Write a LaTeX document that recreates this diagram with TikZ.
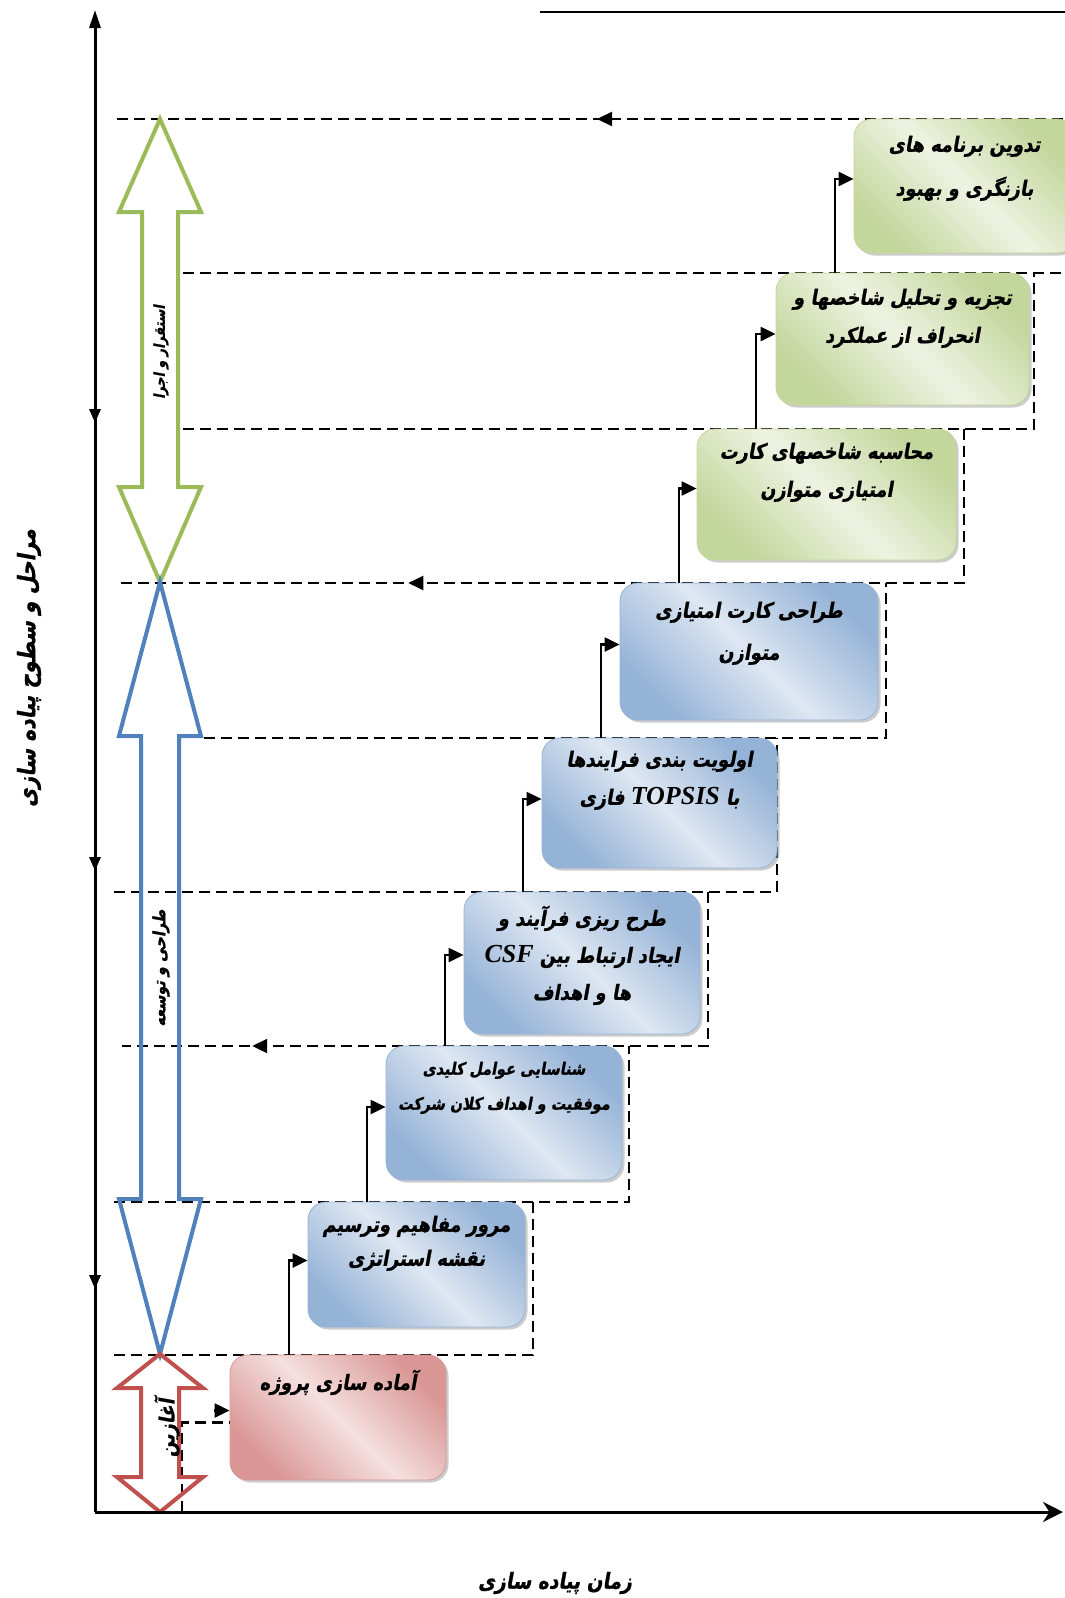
\documentclass[tikz,border=0pt]{standalone}
\usepackage{fontspec}
\usepackage{xcolor}
\usepackage{tikz}
\usetikzlibrary{positioning,calc,shadows,arrows.meta,decorations.markings}
\TeXXeTstate=1
\newfontfamily\fa[Script=Arabic,FakeSlant=0.18,FakeStretch=0.85,FakeBold=1.2]{DejaVu Sans}
\newfontfamily\lat{Liberation Serif}
\definecolor{gline}{HTML}{9BBB59}
\definecolor{gdark}{HTML}{C3D69B}
\definecolor{glight}{HTML}{EEF3E2}
\definecolor{bline}{HTML}{4F81BD}
\definecolor{bdark}{HTML}{95B3D7}
\definecolor{blight}{HTML}{DEE7F2}
\definecolor{rline}{HTML}{C0504D}
\definecolor{rdark}{HTML}{D99694}
\definecolor{rlight}{HTML}{F4E0DF}

\begin{document}
\begin{tikzpicture}[x=1pt,y=-1pt]
			\useasboundingbox (0,0) rectangle (1065,1598);
			\tikzstyle{frame}=[dash pattern=on 11pt off 6pt, line width=2.2pt]
			\tikzstyle{stage}=[rounded corners=18pt, line width=0.8pt, drop shadow={shadow xshift=2.5pt,shadow yshift=-2.5pt,fill=black!40}]
			\tikzstyle{greenstage}=[stage, draw=gdark, top color=gdark, bottom color=gdark, middle color=glight, shading angle=-45]
			\tikzstyle{bluestage}=[stage, draw=bdark, top color=bdark, bottom color=bdark, middle color=blight, shading angle=-45]
			\tikzstyle{redstage}=[stage, draw=rdark, top color=rdark, bottom color=rdark, middle color=rlight, shading angle=-45]
			\tikzstyle{boxtext}=[font=\fa\bfseries\fontsize{21}{38}\selectfont, align=center, inner sep=0pt]
			\tikzstyle{phase}=[line width=4pt, line join=miter]
			\tikzstyle{axis}=[line width=3pt]
			\tikzset{edge/.style = {line width=2.2pt, -{Triangle[length=15pt,width=14pt]}}}
			\tikzset{backmark/.style = {postaction={decorate}, decoration={markings, mark=at position #1 with {\arrow{Triangle[length=15pt,width=14pt]}}}}}
			
			% dashed steps
			\draw[frame, backmark=0.5] (1080,119) -- (114,119);
			\draw[frame] (183,273) -- (1080,273);
			\draw[frame] (183,429) -| (1034,273);
			\draw[frame, backmark=0.709] (964,429) |- (117,583);
			\draw[frame] (204,738) -| (886,583);
			\draw[frame] (114,892) -| (777,738);
			\draw[frame, backmark=0.824] (708,892) |- (122,1046);
			\draw[frame] (114,1202) -| (629,1046);
			\draw[frame] (114,1355) -| (533,1202);
			
			% stages
			\node[redstage, minimum width=216pt, minimum height=125pt](plan) at (338,1417.5) {};
			\node[bluestage, minimum width=217pt, minimum height=125pt](review) at (416.5,1264.5) {};
			\node[bluestage, minimum width=236pt, minimum height=134pt](identify) at (504,1113) {};
			\node[bluestage, minimum width=236pt, minimum height=142pt](link) at (582,963) {};
			\node[bluestage, minimum width=235pt, minimum height=130pt](rank) at (659.5,803) {};
			\node[bluestage, minimum width=258pt, minimum height=137pt](design) at (749,651.5) {};
			\node[greenstage, minimum width=259pt, minimum height=131pt](measure) at (826.5,494.5) {};
			\node[greenstage, minimum width=253pt, minimum height=132pt](analyse) at (902.5,339) {};
			\node[greenstage, minimum width=221pt, minimum height=134pt](revise) at (964.5,186) {};
			
			\node[boxtext, below=15pt of plan.north](plantext) {\beginR آماده سازی پروژه\endR};
			\node[boxtext, font=\fa\bfseries\fontsize{21}{34}\selectfont, below=14pt of review.north](reviewtext) {\beginR مرور مفاهیم  وترسیم\endR\\\beginR نقشه استراتژی\endR};
			\node[boxtext, font=\fa\bfseries\fontsize{17}{35}\selectfont, below=16pt of identify.north](identifytext) {\beginR شناسایی عوامل کلیدی\endR\\\beginR موفقیت و اهداف کلان شرکت\endR};
			\node[boxtext, font=\fa\bfseries\fontsize{21}{37}\selectfont, below=14pt of link.north](linktext) {\beginR طرح ریزی فرآیند و\endR\\\beginR ایجاد ارتباط بین \beginL{\lat\bfseries\itshape\fontsize{26}{37}\selectfont CSF}\endL\endR\\\beginR ها و اهداف\endR};
			\node[boxtext, below=13pt of rank.north](ranktext) {\beginR اولویت بندی فرایندها\endR\\\beginR با  \beginL{\lat\bfseries\itshape\fontsize{26}{38}\selectfont TOPSIS}\endL{} فازی\endR};
			\node[boxtext, font=\fa\bfseries\fontsize{21}{42}\selectfont, below=19pt of design.north](designtext) {\beginR طراحی کارت امتیازی\endR\\\beginR متوازن\endR};
			\node[boxtext, below=14pt of measure.north](measuretext) {\beginR محاسبه شاخصهای کارت\endR\\\beginR امتیازی متوازن\endR};
			\node[boxtext, below=16pt of analyse.north](analysetext) {\beginR تجزیه و تحلیل شاخصها  و\endR\\\beginR انحراف از عملکرد\endR};
			\node[boxtext, font=\fa\bfseries\fontsize{21}{44}\selectfont, below=17pt of revise.north](revisetext) {\beginR تدوین برنامه های\endR\\\beginR بازنگری و بهبود\endR};
			
			% steps up
			\draw[edge] ($(plan.north west)+(59,0)$) |- ($(review.west)+(0,-4)$);
			\draw[edge] ($(review.north west)+(59,0)$) |- ($(identify.west)+(0,-6)$);
			\draw[edge] ($(identify.north west)+(59,0)$) |- ($(link.west)+(0,-8)$);
			\draw[edge] ($(link.north west)+(59,0)$) |- ($(rank.west)+(0,-4)$);
			\draw[edge] ($(rank.north west)+(59,0)$) |- ($(design.west)+(0,-7)$);
			\draw[edge] ($(design.north west)+(59,0)$) |- ($(measure.west)+(0,-6)$);
			\draw[edge] ($(measure.north west)+(59,0)$) |- ($(analyse.west)+(0,-5)$);
			\draw[edge] ($(analyse.north west)+(59,0)$) |- ($(revise.west)+(0,-7)$);
			\draw[frame] (182,1512) |- ($(plan.west)+(0,5)$);
			\draw[edge] ($(plan.west)+(-16,-7)$) -- ($(plan.west)+(0,-7)$);
			
			% phases
			\draw[phase, draw=gline] (160,119) -- (201,212) -- (178,212) -- (178,487) -- (201,487) -- (160,582) -- (119,487) -- (142,487) -- (142,212) -- (119,212) -- cycle;
			\draw[phase, draw=bline] (160,582) -- (201,736) -- (179,736) -- (179,1199) -- (201,1199) -- (160,1354) -- (119,1199) -- (141,1199) -- (141,736) -- (119,736) -- cycle;
			\draw[phase, draw=rline] (160,1354) -- (203,1388) -- (179,1388) -- (179,1477) -- (203,1477) -- (160,1512) -- (117,1477) -- (141,1477) -- (141,1388) -- (117,1388) -- cycle;
			\node[rotate=90, font=\fa\bfseries\fontsize{15}{17}\selectfont](deploy) at (161,352) {\beginR استقرار و اجرا\endR};
			\node[rotate=90, font=\fa\bfseries\fontsize{17}{19}\selectfont](develop) at (161,968) {\beginR طراحی و توسعه\endR};
			\node[rotate=90, font=\fa\bfseries\fontsize{21}{23}\selectfont](start) at (167,1428) {\beginR آغازین\endR};
			
			% axes
			\draw[axis, -{Triangle[length=18pt,width=11pt]}] (95,1512) -- (95,10);
			\draw[axis, -{Stealth[length=20pt,width=20pt]}] (95,1512) -- (1063,1512);
			\draw[axis, -{Triangle[length=14pt,width=11pt]}] (95,405) -- (95,423);
			\draw[axis, -{Triangle[length=14pt,width=11pt]}] (95,853) -- (95,871);
			\draw[axis, -{Triangle[length=14pt,width=11pt]}] (95,1271) -- (95,1289);
			\draw[line width=2.5pt] (540,12) -- (1065,12);
			
			\node[rotate=90, font=\fa\bfseries\fontsize{24}{28}\selectfont](levels) at (29,668) {\beginR مراحل و سطوح  پیاده سازی\endR};
			\node[font=\fa\bfseries\fontsize{22}{26}\selectfont](time) at (555,1583) {\beginR زمان پیاده سازی\endR};
			
\end{tikzpicture}
\end{document}
